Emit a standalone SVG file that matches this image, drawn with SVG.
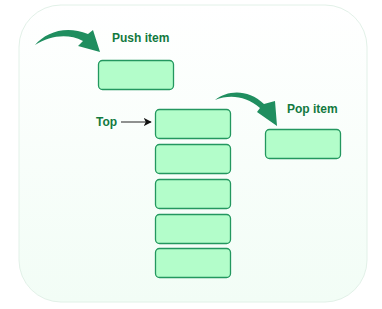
<svg xmlns="http://www.w3.org/2000/svg" width="382" height="309" viewBox="0 0 382 309">
  <defs>
    <linearGradient id="panelFill" x1="0" y1="0" x2="0" y2="1">
      <stop offset="0" stop-color="#ffffff"/>
      <stop offset="1" stop-color="#f2fdf6"/>
    </linearGradient>
    <marker id="headBlack" viewBox="0 0 10 10" refX="9" refY="5" markerWidth="8" markerHeight="8" markerUnits="userSpaceOnUse" orient="auto">
      <path d="M0,0 L10,5 L0,10 L2.5,5 Z" fill="#111"/>
    </marker>
    <style>
      .item { fill: #b3fdca; stroke: #23975f; stroke-width: 1.3; }
      .label { font-family: "Liberation Sans", Arial, sans-serif; font-size: 12px; font-weight: bold; fill: #12793f; }
      .curve { fill: #1f8e5f; }
    </style>
  </defs>

  <rect x="19" y="5" width="348" height="297" rx="42" ry="42" fill="url(#panelFill)" stroke="#e2f1e8" stroke-width="1"/>

  <g id="push-item">
    <rect class="item" x="98.5" y="60.5" width="75" height="29" rx="4"/>
    <text class="label" x="112" y="42">Push item</text>
  </g>

  <g id="stack">
    <g id="stack-1"><rect class="item" x="155.5" y="109.5" width="75" height="29" rx="4"/></g>
    <g id="stack-2"><rect class="item" x="155.5" y="144.5" width="75" height="29" rx="4"/></g>
    <g id="stack-3"><rect class="item" x="155.5" y="179.5" width="75" height="29" rx="4"/></g>
    <g id="stack-4"><rect class="item" x="155.5" y="214.5" width="75" height="29" rx="4"/></g>
    <g id="stack-5"><rect class="item" x="155.5" y="248.5" width="75" height="29" rx="4"/></g>
  </g>

  <g id="pop-item">
    <rect class="item" x="265.5" y="129.5" width="75" height="29" rx="4"/>
    <text class="label" x="287" y="113">Pop item</text>
  </g>

  <g id="top-label">
    <text class="label" x="96" y="126">Top</text>
  </g>

  <g id="connectors">
    <!-- curved push arrow -->
    <path class="curve" d="M35,45 C46,32 66,25 88,34 L93,30 L100,52 L78,46 L83,41 C67,33 50,36 35,45 Z"/>
    <!-- curved pop arrow -->
    <path class="curve" d="M215,100 C228,90 248,89 264,104 L275,101 L277,126 L257,112 L260,108 C246,96 230,94 215,100 Z"/>
    <!-- pointer to top of stack -->
    <line x1="121" y1="122" x2="151" y2="122" stroke="#555" stroke-width="1.3" marker-end="url(#headBlack)"/>
  </g>
</svg>
